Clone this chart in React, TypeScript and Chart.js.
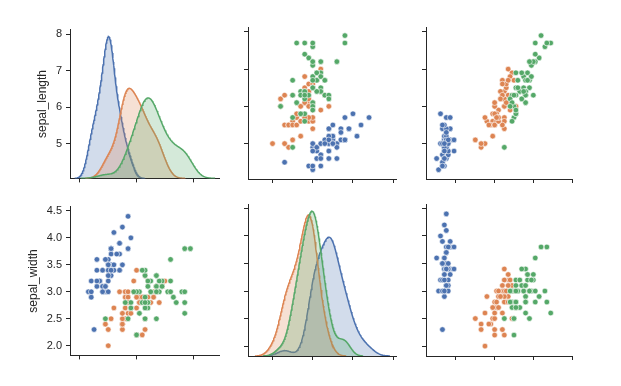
import React, { useEffect, useRef } from "react";
import { Chart, registerables } from "chart.js";
Chart.register(...registerables);

// ---------- data (iris) ----------
const speciesNames = ["setosa", "versicolor", "virginica"];

const setosaSepalLength = [5.1,4.9,4.7,4.6,5.0,5.4,4.6,5.0,4.4,4.9,5.4,4.8,4.8,4.3,5.8,5.7,5.4,5.1,5.7,5.1,5.4,5.1,4.6,5.1,4.8,5.0,5.0,5.2,5.2,4.7,4.8,5.4,5.2,5.5,4.9,5.0,5.5,4.9,4.4,5.1,5.0,4.5,4.4,5.0,5.1,4.8,5.1,4.6,5.3,5.0];
const setosaSepalWidth = [3.5,3.0,3.2,3.1,3.6,3.9,3.4,3.4,2.9,3.1,3.7,3.4,3.0,3.0,4.0,4.4,3.9,3.5,3.8,3.8,3.4,3.7,3.6,3.3,3.4,3.0,3.4,3.5,3.4,3.2,3.1,3.4,4.1,4.2,3.1,3.2,3.5,3.6,3.0,3.4,3.5,2.3,3.2,3.5,3.8,3.0,3.8,3.2,3.7,3.3];
const setosaPetalLength = [1.4,1.4,1.3,1.5,1.4,1.7,1.4,1.5,1.4,1.5,1.5,1.6,1.4,1.1,1.2,1.5,1.3,1.4,1.7,1.5,1.7,1.5,1.0,1.7,1.9,1.6,1.6,1.5,1.4,1.6,1.6,1.5,1.5,1.4,1.5,1.2,1.3,1.4,1.3,1.5,1.3,1.3,1.3,1.6,1.9,1.4,1.6,1.4,1.5,1.4];

const versicolorSepalLength = [7.0,6.4,6.9,5.5,6.5,5.7,6.3,4.9,6.6,5.2,5.0,5.9,6.0,6.1,5.6,6.7,5.6,5.8,6.2,5.6,5.9,6.1,6.3,6.1,6.4,6.6,6.8,6.7,6.0,5.7,5.5,5.5,5.8,6.0,5.4,6.0,6.7,6.3,5.6,5.5,5.5,6.1,5.8,5.0,5.6,5.7,5.7,6.2,5.1,5.7];
const versicolorSepalWidth = [3.2,3.2,3.1,2.3,2.8,2.8,3.3,2.4,2.9,2.7,2.0,3.0,2.2,2.9,2.9,3.1,3.0,2.7,2.2,2.5,3.2,2.8,2.5,2.8,2.9,3.0,2.8,3.0,2.9,2.6,2.4,2.4,2.7,2.7,3.0,3.4,3.1,2.3,3.0,2.5,2.6,3.0,2.6,2.3,2.7,3.0,2.9,2.9,2.5,2.8];
const versicolorPetalLength = [4.7,4.5,4.9,4.0,4.6,4.5,4.7,3.3,4.6,3.9,3.5,4.2,4.0,4.7,3.6,4.4,4.5,4.1,4.5,3.9,4.8,4.0,4.9,4.7,4.3,4.4,4.8,5.0,4.5,3.5,3.8,3.7,3.9,5.1,4.5,4.5,4.7,4.4,4.1,4.0,4.4,4.6,4.0,3.3,4.2,4.2,4.2,4.3,3.0,4.1];

const virginicaSepalLength = [6.3,5.8,7.1,6.3,6.5,7.6,4.9,7.3,6.7,7.2,6.5,6.4,6.8,5.7,5.8,6.4,6.5,7.7,7.7,6.0,6.9,5.6,7.7,6.3,6.7,7.2,6.2,6.1,6.4,7.2,7.4,7.9,6.4,6.3,6.1,7.7,6.3,6.4,6.0,6.9,6.7,6.9,5.8,6.8,6.7,6.7,6.3,6.5,6.2,5.9];
const virginicaSepalWidth = [3.3,2.7,3.0,2.9,3.0,3.0,2.5,2.9,2.5,3.6,3.2,2.7,3.0,2.5,2.8,3.2,3.0,3.8,2.6,2.2,3.2,2.8,2.8,2.7,3.3,3.2,2.8,3.0,2.8,3.0,2.8,3.8,2.8,2.8,2.6,3.0,3.4,3.1,3.0,3.1,3.1,3.1,2.7,3.2,3.3,3.0,2.5,3.0,3.4,3.0];
const virginicaPetalLength = [6.0,5.1,5.9,5.6,5.8,6.6,4.5,6.3,5.8,6.1,5.1,5.3,5.5,5.0,5.1,5.3,5.5,6.7,6.9,5.0,5.7,4.9,6.7,4.9,5.7,6.0,4.8,4.9,5.6,5.8,6.1,6.4,5.6,5.1,5.6,6.1,5.6,5.5,4.8,5.4,5.6,5.1,5.1,5.9,5.7,5.2,5.0,5.2,5.4,5.1];

// tick values
const sepalLengthRowTicks = [5, 6, 7, 8];
const sepalWidthRowTicks = [2.0, 2.5, 3.0, 3.5, 4.0, 4.5];
const sepalLengthColTicks = [4, 6, 8];
const sepalWidthColTicks = [2, 3, 4, 5];
const petalLengthColTicks = [2, 4, 6, 8];

const variables: Record<string, number[][]> = {
  sepal_length: [setosaSepalLength, versicolorSepalLength, virginicaSepalLength],
  sepal_width: [setosaSepalWidth, versicolorSepalWidth, virginicaSepalWidth],
  petal_length: [setosaPetalLength, versicolorPetalLength, virginicaPetalLength],
};

// ---------- styles / layout ----------
const COLORS = ["#4C72B0", "#DD8452", "#55A868"];
const FILLS = ["rgba(76,114,176,0.25)", "rgba(221,132,82,0.25)", "rgba(85,168,104,0.25)"];
const AX = "#262626";
const FONT = "'Liberation Sans', Arial, sans-serif";

const cols = [
  { key: "sepal_length", min: 3.65, max: 8.91, ticks: sepalLengthColTicks, left: 70, right: 219 },
  { key: "sepal_width", min: 1.39, max: 5.07, ticks: sepalWidthColTicks, left: 248, right: 396 },
  { key: "petal_length", min: 0.45, max: 8.0, ticks: petalLengthColTicks, left: 426, right: 572 },
];
const rows = [
  { key: "sepal_length", min: 4.05, max: 8.13, ticks: sepalLengthRowTicks, top: 27, bottom: 179, digits: 0, titlePad: 35 },
  { key: "sepal_width", min: 1.82, max: 4.58, ticks: sepalWidthRowTicks, top: 204, bottom: 356, digits: 1, titlePad: 26 },
];

// ---------- KDE (gaussian, scott bandwidth, cut=3, common norm) ----------
function kde(data: number[], weight: number) {
  const n = data.length;
  const mean = data.reduce((a, b) => a + b, 0) / n;
  const variance = data.reduce((a, b) => a + (b - mean) * (b - mean), 0) / (n - 1);
  const bw = Math.sqrt(variance) * Math.pow(n, -1 / 5);
  const lo = Math.min(...data) - 3 * bw;
  const hi = Math.max(...data) + 3 * bw;
  const pts: { x: number; y: number }[] = [];
  const G = 200;
  for (let i = 0; i < G; i++) {
    const x = lo + ((hi - lo) * i) / (G - 1);
    let s = 0;
    for (const d of data) {
      const z = (x - d) / bw;
      s += Math.exp(-0.5 * z * z);
    }
    pts.push({ x, y: (weight * s) / (n * bw * Math.sqrt(2 * Math.PI)) });
  }
  return pts;
}

const total = speciesNames.reduce((a, _, i) => a + variables.sepal_length[i].length, 0);
const diagCurves: Record<string, { x: number; y: number }[][]> = {};
const diagMax: Record<string, number> = {};
for (const r of rows) {
  diagCurves[r.key] = variables[r.key].map((arr) => kde(arr, arr.length / total));
  let m = 0;
  for (const c of diagCurves[r.key]) for (const p of c) m = Math.max(m, p.y);
  diagMax[r.key] = m * 1.05;
}

const T = 8, R = 8, B = 10;

function Panel({ ri, ci }: { ri: number; ci: number }) {
  const ref = useRef<HTMLCanvasElement | null>(null);
  const row = rows[ri];
  const col = cols[ci];
  const L = ci === 0 ? 70 : 12;
  const x0 = col.left - L;
  const y0 = row.top - T;
  const w = col.right - col.left + L + R;
  const h = row.bottom - row.top + T + B;
  const isDiag = row.key === col.key;

  useEffect(() => {
    const datasets: any[] = [];
    if (isDiag) {
      diagCurves[row.key].forEach((pts, s) => {
        datasets.push({
          type: "line",
          label: speciesNames[s],
          data: pts,
          xAxisID: "x",
          yAxisID: "yd",
          borderColor: COLORS[s],
          backgroundColor: FILLS[s],
          borderWidth: 1.5,
          pointRadius: 0,
          fill: "origin",
          tension: 0,
          order: 3 - s,
        });
      });
    } else {
      speciesNames.forEach((name, s) => {
        const xs = variables[col.key][s];
        const ys = variables[row.key][s];
        datasets.push({
          type: "scatter",
          label: name,
          data: xs.map((xv, i) => ({ x: xv, y: ys[i] })),
          backgroundColor: COLORS[s],
          borderColor: "#ffffff",
          borderWidth: 0.6,
          pointRadius: 2.8,
          order: 3 - s,
        });
      });
    }

    const scales: any = {
      x: {
        type: "linear",
        position: "bottom",
        min: col.min,
        max: col.max,
        afterBuildTicks: (s: any) => {
          s.ticks = col.ticks.map((v) => ({ value: v }));
        },
        afterFit: (s: any) => {
          s.height = B;
        },
        ticks: { display: false },
        grid: { drawOnChartArea: false, drawTicks: true, tickLength: 4, color: AX, lineWidth: 1 },
        border: { display: true, color: AX, width: 1 },
      },
      y: {
        type: "linear",
        position: "left",
        min: row.min,
        max: row.max,
        afterBuildTicks: (s: any) => {
          s.ticks = row.ticks.map((v) => ({ value: v }));
        },
        afterFit: (s: any) => {
          s.width = L;
        },
        ticks: {
          display: ci === 0,
          autoSkip: false,
          padding: 4,
          color: AX,
          font: { family: FONT, size: 11 },
          callback: (v: any) => Number(v).toFixed(row.digits),
        },
        grid: { drawOnChartArea: false, drawTicks: true, tickLength: 4, color: AX, lineWidth: 1 },
        border: { display: true, color: AX, width: 1 },
        title: {
          display: ci === 0,
          text: row.key,
          color: AX,
          font: { family: FONT, size: 12 },
          padding: { top: row.titlePad, bottom: 0 },
        },
      },
    };
    if (isDiag) {
      scales.yd = { type: "linear", display: false, min: 0, max: diagMax[row.key] };
    }

    const chart = new Chart(ref.current as HTMLCanvasElement, {
      type: "scatter",
      data: { datasets },
      options: {
        animation: false,
        responsive: false,
        devicePixelRatio: 1,
        layout: { padding: { top: T, right: R, left: 0, bottom: 0 } },
        plugins: { legend: { display: false }, tooltip: { enabled: false } },
        scales,
      } as any,
    });
    return () => chart.destroy();
  }, []);

  return (
    <canvas
      ref={ref}
      width={w}
      height={h}
      style={{ position: "absolute", left: x0, top: y0, width: w, height: h }}
    />
  );
}

export default function App() {
  Chart.defaults.font.family = FONT;
  return (
    <div style={{ position: "absolute", left: 0, top: 0, width: 621, height: 386, background: "#ffffff", overflow: "hidden" }}>
      {rows.map((_, ri) => cols.map((_, ci) => <Panel key={`${ri}-${ci}`} ri={ri} ci={ci} />))}
    </div>
  );
}
